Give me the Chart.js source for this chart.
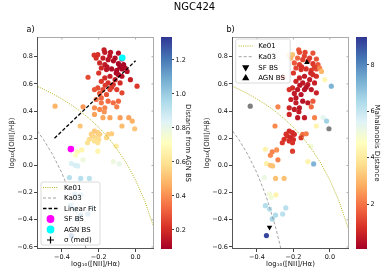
<!DOCTYPE html>
<html><head><meta charset="utf-8">
<script src="https://cdn.jsdelivr.net/npm/chart.js@4.4.0/dist/chart.umd.min.js"></script>
<style>
html,body{margin:0;padding:0;background:#fff;}
#wrap{position:relative;width:389px;height:278px;overflow:hidden;}
canvas{position:absolute;}
.lbl{position:absolute;font-family:"DejaVu Sans",sans-serif;color:#000;white-space:nowrap;}
</style></head><body>
<div id="wrap">
<canvas id="ca" width="160" height="278" style="left:0;top:0"></canvas>
<canvas id="cba" width="45" height="278" style="left:155px;top:0"></canvas>
<canvas id="cb" width="160" height="278" style="left:195px;top:0"></canvas>
<canvas id="cbb" width="39" height="278" style="left:350px;top:0"></canvas>
<div class="lbl" style="left:0;width:389px;top:1px;text-align:center;font-size:10px;line-height:12px;">NGC424</div>
<div class="lbl" style="left:26.5px;top:25px;font-size:8px;line-height:10px;">a)</div>
<div class="lbl" style="left:226.5px;top:25px;font-size:8px;line-height:10px;">b)</div>
</div>
<script>
// ---- data ----
const xVals = [-0.171,-0.167,-0.136,-0.093,-0.205,-0.225,-0.214,-0.177,-0.149,-0.111,-0.074,-0.195,-0.167,-0.093,-0.065,-0.186,-0.158,-0.130,-0.102,-0.074,-0.056,-0.046,-0.028,0.008,-0.120,-0.140,-0.155,-0.085,-0.105,-0.200,-0.258,-0.074,-0.093,-0.139,-0.167,-0.111,-0.186,-0.149,-0.121,-0.084,-0.165,-0.130,-0.205,-0.223,-0.177,-0.139,-0.102,-0.074,-0.158,-0.195,-0.186,-0.214,-0.149,-0.121,-0.186,-0.093,-0.102,-0.223,-0.195,-0.167,-0.170,-0.223,-0.177,-0.139,-0.084,-0.037,-0.018,-0.074,-0.005,-0.437,-0.285,-0.301,-0.223,-0.205,-0.240,-0.195,-0.233,-0.214,-0.200,-0.251,-0.223,-0.261,-0.205,-0.149,-0.130,-0.158,-0.354,-0.316,-0.292,-0.205,-0.105,-0.326,-0.285,-0.348,-0.326,-0.314,-0.121,-0.089,-0.359,-0.298,-0.251,-0.331,-0.322,-0.296,-0.354,-0.331,-0.242,-0.298,-0.316,-0.259,-0.348];
const yVals = [0.851,0.832,0.832,0.827,0.815,0.812,0.790,0.790,0.778,0.790,0.783,0.754,0.741,0.749,0.741,0.717,0.705,0.710,0.700,0.710,0.717,0.692,0.631,0.583,0.770,0.805,0.725,0.725,0.680,0.680,0.649,0.656,0.668,0.656,0.644,0.631,0.619,0.607,0.595,0.607,0.590,0.575,0.570,0.558,0.558,0.558,0.558,0.534,0.522,0.530,0.497,0.485,0.473,0.461,0.461,0.473,0.431,0.424,0.412,0.424,0.395,0.375,0.351,0.351,0.351,0.351,0.326,0.290,0.270,0.436,0.431,0.290,0.253,0.241,0.230,0.229,0.216,0.204,0.190,0.192,0.180,0.167,0.167,0.229,0.233,0.204,0.119,0.100,0.114,0.105,0.143,0.075,0.041,0.014,0.001,-0.004,0.028,0.011,-0.089,-0.096,-0.096,-0.211,-0.235,-0.216,-0.296,-0.321,-0.313,-0.365,-0.394,-0.358,-0.516];
const distAGN = [0.17,0.16,0.14,0.12,0.21,0.22,0.21,0.17,0.14,0.12,0.10,0.19,0.16,0.10,0.10,0.19,0.15,0.12,0.11,0.10,0.11,0.13,0.17,0.23,0.12,0.14,0.14,0.10,0.11,0.22,0.27,0.13,0.12,0.17,0.20,0.17,0.23,0.21,0.21,0.20,0.23,0.23,0.27,0.29,0.26,0.25,0.24,0.26,0.28,0.30,0.32,0.34,0.33,0.34,0.35,0.33,0.37,0.40,0.39,0.38,0.41,0.44,0.45,0.44,0.43,0.44,0.47,0.50,0.52,0.48,0.42,0.52,0.53,0.54,0.55,0.55,0.56,0.57,0.58,0.58,0.59,0.60,0.60,0.55,0.54,0.57,0.68,0.69,0.67,0.67,0.64,0.72,0.78,0.85,0.86,0.86,0.78,0.80,0.93,0.93,0.92,1.00,1.01,1.00,1.05,1.06,1.04,1.08,1.10,1.07,1.20];
const mahal = [1.6,1.4,1.3,1.5,3.2,3.6,3.0,1.8,1.3,1.2,1.5,1.6,1.2,1.1,1.6,1.3,1.0,1.0,1.1,1.4,2.2,3.0,4.4,7.2,1.1,1.3,1.0,1.2,0.8,1.1,1.2,1.0,0.9,0.6,0.7,0.6,0.8,0.5,0.5,0.7,0.5,0.4,0.9,1.0,0.5,0.4,0.5,0.7,0.4,0.6,0.5,0.7,0.4,0.5,0.6,1.6,1.8,0.8,0.6,0.5,0.6,0.8,0.5,0.6,2.2,5.4,6.6,4.3,null,null,2.2,2.3,0.9,0.9,1.0,0.9,1.0,0.8,0.9,1.0,0.9,1.1,1.0,1.9,2.1,1.1,4.3,2.2,2.4,1.2,5.0,2.3,2.2,4.2,3.2,3.2,4.3,7.2,5.2,3.2,3.2,5.0,5.0,4.3,6.3,6.3,6.2,6.4,6.5,6.2,9.0];

const ke01X = [-0.55,-0.5,-0.45,-0.4,-0.35,-0.3,-0.25,-0.2,-0.15,-0.1,-0.05,0.0,0.05,0.1,0.15];
const ke01Y = [0.592,0.561,0.527,0.489,0.446,0.398,0.343,0.280,0.206,0.120,0.017,-0.108,-0.262,-0.459,-0.716];
const ka03X = [-0.55,-0.5,-0.45,-0.4,-0.35,-0.3,-0.275,-0.26,-0.25];
const ka03Y = [0.283,0.191,0.080,-0.056,-0.225,-0.443,-0.577,-0.668,-0.733];
const fitX = [-0.44, 0.0];
const fitY = [0.20, 0.77];
const sfA = {x:-0.351, y:0.120};
const agnA = {x:-0.072, y:0.792};
const sfB = {x:-0.331, y:-0.455};
const agnB = {x:-0.126, y:0.758};

const xTicks = [-0.4,-0.2,0.0];
const yTicks = [-0.6,-0.4,-0.2,0.0,0.2,0.4,0.6,0.8];
const cbTicksA = [0.2,0.4,0.6,0.8,1.0,1.2];
const cbTicksB = [2,4,6,8];
const rangeA = [0.088, 1.335];
const rangeB = [0.07, 9.2];
const legendLabelsA = ['Ke01','Ka03','Linear Fit','SF BS','AGN BS','σ (med)'];
const legendLabelsB = ['Ke01','Ka03','SF BS','AGN BS'];

// ---- styling helpers ----
const FONT = '"DejaVu Sans", sans-serif';
const RdYlBu = ['#a50026','#d73027','#f46d43','#fdae61','#fee090','#ffffbf','#e0f3f8','#abd9e9','#74add1','#4575b4','#313695'];
function hex2rgb(h){return [parseInt(h.substr(1,2),16),parseInt(h.substr(3,2),16),parseInt(h.substr(5,2),16)];}
const stops = RdYlBu.map(hex2rgb);
function cmap(t){
  t = Math.max(0, Math.min(1, t));
  const f = t*10, i = Math.min(9, Math.floor(f)), r = f - i;
  const a = stops[i], b = stops[i+1];
  return 'rgb(' + [0,1,2].map(k => Math.round(a[k] + (b[k]-a[k])*r)).join(',') + ')';
}
function colorOf(v, range){
  if (v === null || v === undefined) return '#7f7f7f';
  return cmap((v - range[0])/(range[1]-range[0]));
}
const fmt = v => (Math.abs(v) < 1e-9 ? '0.0' : v.toFixed(1).replace('-', '\u2212'));

const LEG = {
  'Ke01': {kind:'line', color:'#b5b21e', width:1, dash:[1,1.2]},
  'Ka03': {kind:'line', color:'#8c8c8c', width:0.8, dash:[3,2]},
  'Linear Fit': {kind:'line', color:'#000', width:1.3, dash:[3.5,2]},
  'SF BS': {kind:'pt', style:'circle', color:'#ff00ff', r:3.3},
  'AGN BS': {kind:'pt', style:'circle', color:'#00ffff', r:3.3},
  'σ (med)': {kind:'pt', style:'cross', color:'#000', r:3.5},
};
const LEGB = {
  'SF BS': {kind:'pt', style:'triangle', rot:180, color:'#000', r:3},
  'AGN BS': {kind:'pt', style:'triangle', rot:0, color:'#000', r:3},
};

function drawLegend(ctx, area, L){
  const x = area.left + L.dx, y = L.fromBottom ? area.bottom - L.dy - L.h : area.top + L.dy;
  ctx.save();
  ctx.fillStyle = 'rgba(255,255,255,0.8)';
  ctx.strokeStyle = '#d0d0d0';
  ctx.lineWidth = 0.8;
  ctx.beginPath();
  if (ctx.roundRect) ctx.roundRect(x, y, L.w, L.h, 2); else ctx.rect(x, y, L.w, L.h);
  ctx.fill(); ctx.stroke();
  ctx.font = '7px ' + FONT;
  ctx.textBaseline = 'middle';
  L.labels.forEach((lab, i) => {
    const yy = y + L.row0 + i*L.gap;
    const st = (L.styles && L.styles[lab]) || LEG[lab];
    if (st.kind === 'line'){
      ctx.save();
      ctx.strokeStyle = st.color; ctx.lineWidth = st.width; ctx.setLineDash(st.dash);
      ctx.beginPath(); ctx.moveTo(x + L.s0, yy); ctx.lineTo(x + L.s1, yy); ctx.stroke();
      ctx.restore();
    } else {
      ctx.save();
      ctx.fillStyle = st.color; ctx.strokeStyle = st.color; ctx.lineWidth = 1.2;
      Chart.helpers.drawPoint(ctx, {pointStyle: st.style, radius: st.r, rotation: st.rot || 0, borderWidth: 1.2}, x + (L.s0+L.s1)/2, yy);
      ctx.restore();
    }
    ctx.fillStyle = '#000';
    ctx.fillText(lab, x + L.tx, yy + 0.5);
  });
  ctx.restore();
}

const framePlugin = {
  id: 'frame',
  afterDatasetsDraw(chart, args, opts){
    const ctx = chart.ctx, a = chart.chartArea;
    const xs = chart.scales.x, ys = chart.scales.y;
    ctx.save();
    ctx.strokeStyle = '#999'; ctx.lineWidth = 0.8;
    ctx.beginPath();
    xTicks.forEach(v => { const px = xs.getPixelForValue(v); ctx.moveTo(px, a.top); ctx.lineTo(px, a.top + 2.5); });
    yTicks.forEach(v => { const py = ys.getPixelForValue(v); ctx.moveTo(a.right, py); ctx.lineTo(a.right - 2.5, py); });
    ctx.stroke();
    ctx.lineWidth = 1;
    ctx.strokeStyle = '#aaa';
    ctx.beginPath(); ctx.moveTo(a.left, a.top + 0.5); ctx.lineTo(a.right, a.top + 0.5);
    ctx.moveTo(a.right - 0.5, a.top); ctx.lineTo(a.right - 0.5, a.bottom); ctx.stroke();
    ctx.strokeStyle = '#555';
    ctx.beginPath(); ctx.moveTo(a.left + 0.5, a.top); ctx.lineTo(a.left + 0.5, a.bottom);
    ctx.moveTo(a.left, a.bottom - 0.5); ctx.lineTo(a.right, a.bottom - 0.5); ctx.stroke();
    ctx.restore();
    if (opts && opts.legend) drawLegend(ctx, a, opts.legend);
  }
};

const cbPlugin = {
  id: 'cbgrad',
  beforeDatasetsDraw(chart){
    const ctx = chart.ctx, a = chart.chartArea;
    const g = ctx.createLinearGradient(0, a.bottom, 0, a.top);
    RdYlBu.forEach((c, i) => g.addColorStop(i/10, c));
    ctx.save(); ctx.fillStyle = g; ctx.fillRect(a.left, a.top, a.right - a.left, a.bottom - a.top); ctx.restore();
  },
  afterDraw(chart, args, opts){
    const ctx = chart.ctx, a = chart.chartArea, s = chart.scales.y;
    ctx.save();
    ctx.setTransform(1, 0, 0, 1, 0, 0);
    ctx.font = '6.5px ' + FONT;
    ctx.fillStyle = '#111';
    ctx.textAlign = 'left';
    ctx.textBaseline = 'middle';
    opts.ticks.forEach(v => {
      ctx.fillText(v.toFixed(opts.decimals), a.right + 3.5, s.getPixelForValue(v));
    });
    ctx.restore();
  }
};

function lineDS(xs, ys, color, width, dash, order){
  return {type:'scatter', data: xs.map((x,i)=>({x, y: ys[i]})), showLine:true, borderColor: color, borderWidth: width,
    borderDash: dash, pointRadius: 0, fill: false, order: order};
}

function panelOptions(xmin, xmax, ymin, ymax, ylabelPad, legend){
  return {
    responsive: false, animation: false,
    layout: {padding: {top: 37, right: 6, left: 0, bottom: 0}},
    plugins: {legend: {display: false}, tooltip: {enabled: false}, frame: {legend: legend}},
    scales: {
      x: {type: 'linear', min: xmin, max: xmax,
        afterBuildTicks: s => { s.ticks = xTicks.map(v => ({value: v})); },
        afterFit: s => { s.height = 29; },
        grid: {display: true, drawOnChartArea: false, drawTicks: true, tickLength: 3, color: '#444'},
        border: {display: false},
        ticks: {font: {family: FONT, size: 6.5}, color: '#111', padding: 1, maxRotation: 0, callback: v => fmt(v)},
        title: {display: true, text: 'log\u2081\u2080([NII]/H\u03b1)', font: {family: FONT, size: 7}, color: '#111', padding: {top: 0, bottom: 10}}
      },
      y: {type: 'linear', min: ymin, max: ymax,
        afterBuildTicks: s => { s.ticks = yTicks.map(v => ({value: v})); },
        afterFit: s => { s.width = 37; },
        grid: {display: true, drawOnChartArea: false, drawTicks: true, tickLength: 3, color: '#444'},
        border: {display: false},
        ticks: {font: {family: FONT, size: 6.5}, color: '#111', padding: 1, callback: v => fmt(v)},
        title: {display: true, text: 'log\u2081\u2080([OIII]/H\u03b2)', font: {family: FONT, size: 7}, color: '#111', padding: {top: ylabelPad, bottom: 0}}
      }
    }
  };
}

// ---- panel a ----
new Chart(document.getElementById('ca'), {
  type: 'scatter',
  data: {datasets: [
    lineDS(fitX, fitY, '#000', 1.3, [3.5, 2], 1),
    lineDS(ke01X, ke01Y, '#b5b21e', 1, [1, 1.2], 2),
    lineDS(ka03X, ka03Y, '#8c8c8c', 0.8, [3, 2], 3),
    {data: [sfA], pointRadius: 3.3, backgroundColor: '#ff00ff', borderWidth: 0, order: 0},
    {data: [agnA], pointRadius: 3.3, backgroundColor: '#00ffff', borderWidth: 0, order: 0},
    {data: xVals.map((x,i)=>({x, y: yVals[i]})), pointRadius: 2.6, borderWidth: 0,
     backgroundColor: distAGN.map(v => colorOf(v, rangeA)), order: 5}
  ]},
  options: panelOptions(-0.535, 0.1, -0.615, 0.945, 8,
    {labels: legendLabelsA, fromBottom: true, dx: 4, dy: 4, w: 59, h: 63, row0: 5.5, gap: 10.5, s0: 2, s1: 17, tx: 23}),
  plugins: [framePlugin]
});

// ---- panel b ----
new Chart(document.getElementById('cb'), {
  type: 'scatter',
  data: {datasets: [
    lineDS(ke01X, ke01Y, '#b5b21e', 1, [1, 1.2], 2),
    lineDS(ka03X, ka03Y, '#8c8c8c', 0.8, [3, 2], 3),
    {data: [sfB], pointStyle: 'triangle', rotation: 180, pointRadius: 3.2, backgroundColor: '#000', borderWidth: 0, order: 0},
    {data: [agnB], pointStyle: 'triangle', rotation: 0, pointRadius: 3.2, backgroundColor: '#000', borderWidth: 0, order: 0},
    {data: xVals.map((x,i)=>({x, y: yVals[i]})), pointRadius: 2.6, borderWidth: 0,
     backgroundColor: mahal.map(v => colorOf(v, rangeB)), order: 5}
  ]},
  options: panelOptions(-0.537, 0.105, -0.615, 0.945, 8,
    {labels: legendLabelsB, styles: Object.assign({}, LEG, LEGB), fromBottom: false, dx: 3.7, dy: 2, w: 54.5, h: 44, row0: 7, gap: 10.7, s0: 3, s1: 17, tx: 22.5}),
  plugins: [framePlugin]
});

// ---- colorbars ----
function cbChart(id, range, ticks, label, w, titlePad, decimals){
  return new Chart(document.getElementById(id), {
    type: 'scatter',
    data: {datasets: []},
    options: {
      responsive: false, animation: false,
      layout: {padding: {left: 6, top: 37, bottom: 29, right: 0}},
      plugins: {legend: {display: false}, tooltip: {enabled: false}, cbgrad: {ticks: ticks, decimals: decimals}},
      scales: {
        x: {display: false, min: 0, max: 1},
        y: {position: 'right', min: range[0], max: range[1],
          afterBuildTicks: s => { s.ticks = ticks.map(v => ({value: v})); },
          afterFit: s => { s.width = w - 17; },
          grid: {display: true, drawOnChartArea: false, drawTicks: true, tickLength: 2, color: '#444'},
          border: {display: false},
          ticks: {display: false},
          title: {display: true, text: label, font: {family: FONT, size: 7}, color: '#111', padding: {top: titlePad, bottom: 0}}
        }
      }
    },
    plugins: [cbPlugin]
  });
}
cbChart('cba', rangeA, cbTicksA, 'Distance from AGN BS', 45, 7.5, 1);
cbChart('cbb', rangeB, cbTicksB, 'Mahalanobis Distance', 39, 7.8, 0);
</script>
</body></html>
